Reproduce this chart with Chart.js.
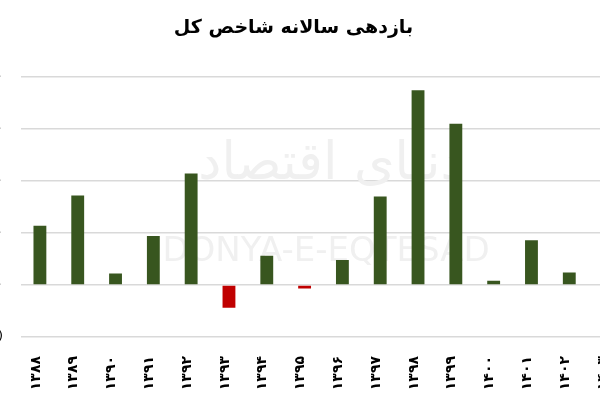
<!DOCTYPE html>
<html>
<head>
<meta charset="utf-8">
<script src="https://cdn.jsdelivr.net/npm/chart.js@4"></script>
<style>
  html, body { margin: 0; padding: 0; background: #fff; overflow: hidden; }
  .wrap { position: absolute; left: -39px; top: 0; width: 680px; height: 400px; }
</style>
</head>
<body>
<div class="wrap"><canvas id="grafico"></canvas></div>
<script>
const anos = ['۱۳۸۸', '۱۳۸۹', '۱۳۹۰', '۱۳۹۱', '۱۳۹۲', '۱۳۹۳', '۱۳۹۴', '۱۳۹۵', '۱۳۹۶', '۱۳۹۷', '۱۳۹۸', '۱۳۹۹', '۱۴۰۰', '۱۴۰۱', '۱۴۰۲', '۱۴۰۳'];
const retorno = [57, 86, 11, 47, 107, -22, 28, -3.5, 24, 85, 187, 155, 4, 43, 12, null];
const titulo = 'بازدهی سالانه شاخص کل';

const digitos = '۰۱۲۳۴۵۶۷۸۹';
const fa = n => String(n).replace(/\d/g, d => digitos[d]);

// marca d'agua fraca no fundo
const marca = {
  id: 'marca',
  beforeDatasetsDraw(chart) {
    const c = chart.ctx;
    c.save();
    c.fillStyle = '#f0f0f0';
    c.textAlign = 'center';
    c.textBaseline = 'middle';
    c.font = '34px "DejaVu Sans"';
    c.fillText('DONYA-E-EQTESAD', 365, 252);
    c.font = '52px "DejaVu Sans"';
    c.fillText('دنیای اقتصاد', 370, 165);
    c.restore();
  }
};

const ctx = document.getElementById('grafico').getContext('2d');

new Chart(ctx, {
  type: 'bar',
  data: {
    labels: anos,
    datasets: [{
      data: retorno,
      backgroundColor: c => (c.raw < 0 ? '#c00000' : '#38561f'),
      borderWidth: 0,
      categoryPercentage: 1,
      barPercentage: 0.34
    }]
  },
  plugins: [marca],
  options: {
    responsive: true,
    maintainAspectRatio: false,
    animation: false,
    layout: { padding: { left: 0, right: 15, top: 0, bottom: 0 } },
    plugins: {
      legend: { display: false },
      tooltip: { enabled: false },
      title: {
        display: true,
        text: titulo,
        color: '#000',
        font: { family: '"DejaVu Sans"', size: 19, weight: 'bold' },
        padding: { top: 17, bottom: 37 }
      }
    },
    scales: {
      x: {
        afterFit: s => { s.height = 63; },
        grid: { display: false },
        border: { display: false },
        ticks: {
          color: '#000',
          font: { family: '"DejaVu Sans"', size: 14, weight: 'bold' },
          minRotation: 90,
          maxRotation: 90,
          labelOffset: -4,
          padding: 11,
          autoSkip: false
        }
      },
      y: {
        min: -50,
        max: 200,
        afterFit: s => { s.width = 60; },
        grid: { color: '#d9d9d9', lineWidth: 1.5, drawTicks: false },
        border: { display: false },
        ticks: {
          stepSize: 50,
          padding: 18,
          color: '#000',
          font: { family: '"DejaVu Sans"', size: 13 },
          callback: v => (v < 0 ? '(' + fa(-v) + ')' : fa(v))
        }
      }
    }
  }
});
</script>
</body>
</html>
